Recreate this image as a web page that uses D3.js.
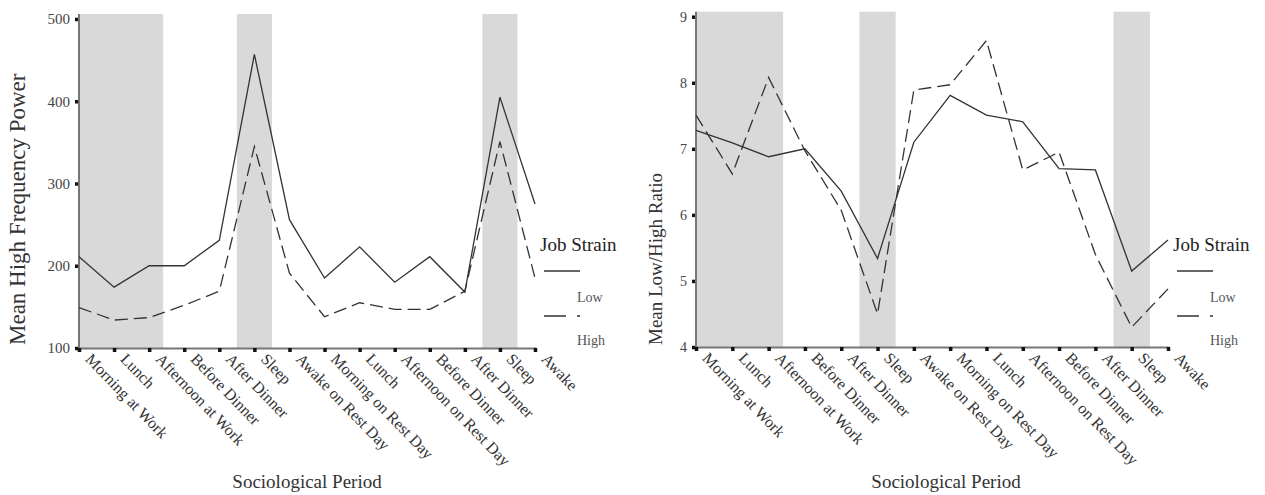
<!DOCTYPE html>
<html>
<head>
<meta charset="utf-8">
<script src="https://cdn.jsdelivr.net/npm/d3@7"></script>
<style>
  html, body { margin: 0; padding: 0; background: #fff; }
  svg { display: block; font-family: "Liberation Serif", "Times New Roman", serif; }
</style>
</head>
<body>
<svg id="chart" width="1265" height="495"></svg>
<script>
// Sociological periods across a work day and a rest day
const periods = ["Morning at Work", "Lunch", "Afternoon at Work", "Before Dinner", "After Dinner",
  "Sleep", "Awake on Rest Day", "Morning on Rest Day", "Lunch", "Afternoon on Rest Day",
  "Before Dinner", "After Dinner", "Sleep", "Awake"];

// Mean high frequency power by job strain group
const hfLow  = [211, 174, 200, 200, 231, 457, 256, 185, 223, 180, 211, 168, 405, 275];
const hfHigh = [149, 134, 137, 152, 169, 345, 191, 138, 155, 147, 147, 169, 351, 185];

// Mean low/high ratio by job strain group
const ratioLow  = [7.28, 7.09, 6.88, 7.00, 6.36, 5.34, 7.10, 7.81, 7.51, 7.41, 6.70, 6.68, 5.15, 5.62];
const ratioHigh = [7.51, 6.62, 8.08, 6.97, 6.07, 4.50, 7.89, 7.97, 8.64, 6.68, 6.95, 5.40, 4.30, 4.88];

// Shaded spans (in period index units): work hours and the two sleep periods
const shadedSpans = [[0, 2.4], [4.5, 5.5], [11.5, 12.5]];

// Axis ticks
const hfTicks = [100, 200, 300, 400, 500];
const ratioTicks = [4, 5, 6, 7, 8, 9];

const legendTitle = "Job Strain";
const groups = ["Low", "High"];

const svg = d3.select("#chart");
const lineColor = "#333";
const dashPattern = "13,6";

function panel(opts) {
  const g = svg.append("g");
  const x = d3.scaleLinear().domain([0, periods.length - 1]).range([opts.x0, opts.x1]);
  const y = d3.scaleLinear().domain(opts.domain).range([opts.yBottom, opts.yTop]);
  const bandTop = opts.yTop - 5;

  // shaded spans
  g.selectAll("rect.span").data(shadedSpans).join("rect")
    .attr("class", "span")
    .attr("x", d => x(d[0]))
    .attr("width", d => x(d[1]) - x(d[0]))
    .attr("y", bandTop)
    .attr("height", opts.yBottom - bandTop)
    .attr("fill", "#d9d9d9");

  // y axis
  const yAxis = g.append("g")
    .attr("transform", `translate(${opts.x0},0)`)
    .call(d3.axisLeft(y).tickValues(opts.ticks).tickSize(4).tickPadding(5)
      .tickFormat(d3.format("d")));
  yAxis.select(".domain").remove();
  yAxis.selectAll(".tick line").attr("stroke", "#111").attr("stroke-width", 3.5);
  yAxis.selectAll(".tick text")
    .attr("font-family", "Liberation Serif, serif")
    .attr("font-size", opts.tickFont)
    .attr("fill", "#444");
  g.append("line")
    .attr("x1", opts.x0).attr("x2", opts.x0)
    .attr("y1", bandTop).attr("y2", opts.yBottom + 1)
    .attr("stroke", "#777").attr("stroke-width", 2);

  // x axis
  const xAxis = g.append("g")
    .attr("transform", `translate(0,${opts.yBottom})`)
    .call(d3.axisBottom(x).tickValues(d3.range(periods.length)).tickSize(4)
      .tickFormat(i => periods[i]));
  xAxis.select(".domain").attr("stroke", "#777").attr("stroke-width", 2);
  xAxis.selectAll(".tick line").attr("stroke", "#111").attr("stroke-width", 3.5);
  xAxis.selectAll(".tick text")
    .attr("font-family", "Liberation Serif, serif")
    .attr("font-size", 16)
    .attr("fill", "#333")
    .attr("text-anchor", "start")
    .attr("x", 0).attr("y", 0).attr("dy", null)
    .attr("transform", "translate(5,12) rotate(46)");

  // series lines
  const line = d3.line().x((d, i) => x(i)).y(d => y(d));
  g.append("path").datum(opts.low)
    .attr("d", line).attr("fill", "none")
    .attr("stroke", lineColor).attr("stroke-width", 1.3);
  g.append("path").datum(opts.high)
    .attr("d", line).attr("fill", "none")
    .attr("stroke", lineColor).attr("stroke-width", 1.3)
    .attr("stroke-dasharray", dashPattern);

  // axis titles
  g.append("text")
    .attr("transform", `translate(${opts.yTitleX},${opts.yTitleY}) rotate(-90)`)
    .attr("text-anchor", "start")
    .attr("font-size", opts.yTitleFont)
    .attr("fill", "#333")
    .text(opts.yTitle);
  g.append("text")
    .attr("x", (opts.x0 + opts.x1) / 2 + opts.xTitleShift)
    .attr("y", 488)
    .attr("text-anchor", "middle")
    .attr("font-size", 19)
    .attr("fill", "#333")
    .text("Sociological Period");

  // legend
  const lg = g.append("g").attr("transform", `translate(${opts.legendX},0)`);
  lg.append("text").attr("x", 0).attr("y", 251)
    .attr("font-size", 19).attr("fill", "#222").text(legendTitle);
  lg.append("line").attr("x1", 4).attr("x2", 40).attr("y1", 271).attr("y2", 271)
    .attr("stroke", lineColor).attr("stroke-width", 1.4);
  lg.append("text").attr("x", 37).attr("y", 302)
    .attr("font-size", 14).attr("fill", "#555").text(groups[0]);
  lg.append("line").attr("x1", 4).attr("x2", 40).attr("y1", 316).attr("y2", 316)
    .attr("stroke", lineColor).attr("stroke-width", 1.4)
    .attr("stroke-dasharray", "22,11,4,10");
  lg.append("text").attr("x", 37).attr("y", 345)
    .attr("font-size", 14).attr("fill", "#555").text(groups[1]);
}

panel({
  x0: 79, x1: 535, yTop: 19, yBottom: 348,
  domain: [100, 500], ticks: hfTicks, tickFont: 15,
  low: hfLow, high: hfHigh,
  yTitle: "Mean High Frequency Power", yTitleX: 25, yTitleY: 345, yTitleFont: 23,
  xTitleShift: 0,
  legendX: 540
});

panel({
  x0: 696, x1: 1168, yTop: 16.7, yBottom: 347,
  domain: [4, 9], ticks: ratioTicks, tickFont: 14,
  low: ratioLow, high: ratioHigh,
  yTitle: "Mean Low/High Ratio", yTitleX: 662, yTitleY: 345, yTitleFont: 19,
  xTitleShift: 14,
  legendX: 1173
});
</script>
</body>
</html>
